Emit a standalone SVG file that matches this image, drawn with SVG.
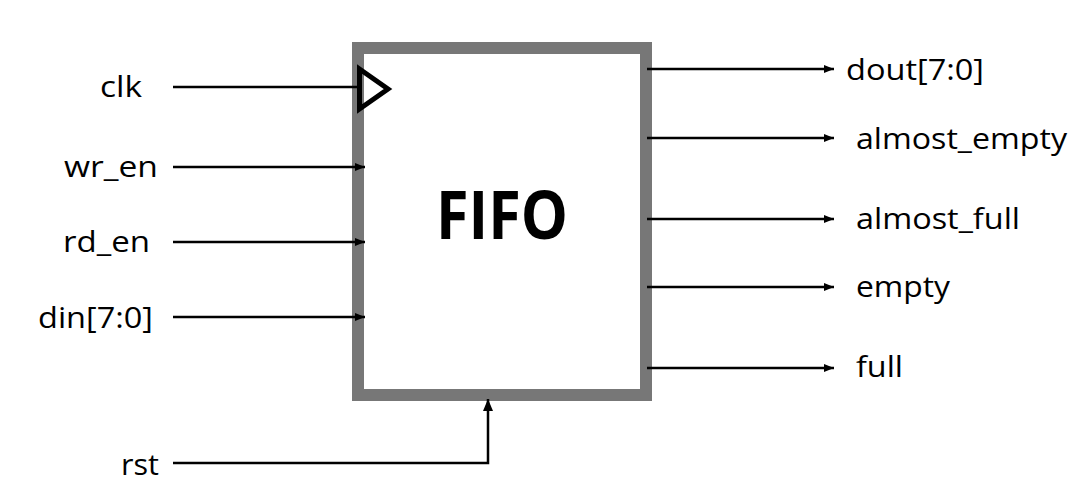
<svg xmlns="http://www.w3.org/2000/svg" width="1092" height="500" viewBox="0 0 1092 500">
<style>
.lbl{font-family:"Open Sans","Liberation Sans",sans-serif;font-size:30px;fill:#000}
.title{font-family:"Open Sans","Liberation Sans",sans-serif;font-size:66px;font-weight:bold;fill:#000}
.wire{stroke:#000;stroke-width:2.5;fill:none}
</style>
<defs>
<marker id="ah" viewBox="0 0 10 8" refX="10" refY="4" markerWidth="10" markerHeight="8" markerUnits="userSpaceOnUse" orient="auto">
<path d="M0,0 L10,4 L0,8 Z" fill="#000"/>
</marker>
<marker id="ahb" viewBox="0 0 12 10" refX="12" refY="5" markerWidth="12" markerHeight="10" markerUnits="userSpaceOnUse" orient="auto">
<path d="M0,0 L12,5 L0,10 Z" fill="#000"/>
</marker>
</defs>
<rect width="1092" height="500" fill="#fff"/>
<g id="fifo">
<rect x="358" y="48" width="288" height="347" fill="#fff" stroke="#777" stroke-width="12"/>
<path d="M359.5,69 L388,89 L359.5,109 Z" fill="none" stroke="#000" stroke-width="5" stroke-linejoin="miter"/>
<text class="title" x="436" y="239" textLength="132" lengthAdjust="spacingAndGlyphs">FIFO</text>
</g>
<g id="connectors">
<line class="wire" x1="173" y1="87" x2="359" y2="87"/>
<line class="wire" x1="173" y1="167" x2="365" y2="167" marker-end="url(#ah)"/>
<line class="wire" x1="173" y1="242" x2="365" y2="242" marker-end="url(#ah)"/>
<line class="wire" x1="173" y1="317" x2="365" y2="317" marker-end="url(#ah)"/>
<polyline class="wire" points="173,463 488,463 488,399" marker-end="url(#ahb)"/>
<line class="wire" x1="647" y1="69" x2="834" y2="69" marker-end="url(#ah)"/>
<line class="wire" x1="647" y1="138" x2="834" y2="138" marker-end="url(#ah)"/>
<line class="wire" x1="647" y1="219" x2="834" y2="219" marker-end="url(#ah)"/>
<line class="wire" x1="647" y1="287" x2="834" y2="287" marker-end="url(#ah)"/>
<line class="wire" x1="647" y1="368" x2="834" y2="368" marker-end="url(#ah)"/>
</g>
<g id="labels">
<text class="lbl" x="100" y="97" textLength="42" lengthAdjust="spacingAndGlyphs">clk</text>
<text class="lbl" x="64" y="177" textLength="94" lengthAdjust="spacingAndGlyphs">wr_en</text>
<text class="lbl" x="63" y="252" textLength="87" lengthAdjust="spacingAndGlyphs">rd_en</text>
<text class="lbl" x="38" y="328" textLength="115" lengthAdjust="spacingAndGlyphs">din[7:0]</text>
<text class="lbl" x="121" y="475" textLength="38" lengthAdjust="spacingAndGlyphs">rst</text>
<text class="lbl" x="846" y="80" textLength="138" lengthAdjust="spacingAndGlyphs">dout[7:0]</text>
<text class="lbl" x="856" y="149" textLength="211" lengthAdjust="spacingAndGlyphs">almost_empty</text>
<text class="lbl" x="856" y="229" textLength="164" lengthAdjust="spacingAndGlyphs">almost_full</text>
<text class="lbl" x="856" y="297" textLength="94" lengthAdjust="spacingAndGlyphs">empty</text>
<text class="lbl" x="856" y="377" textLength="47" lengthAdjust="spacingAndGlyphs">full</text>
</g>
</svg>
